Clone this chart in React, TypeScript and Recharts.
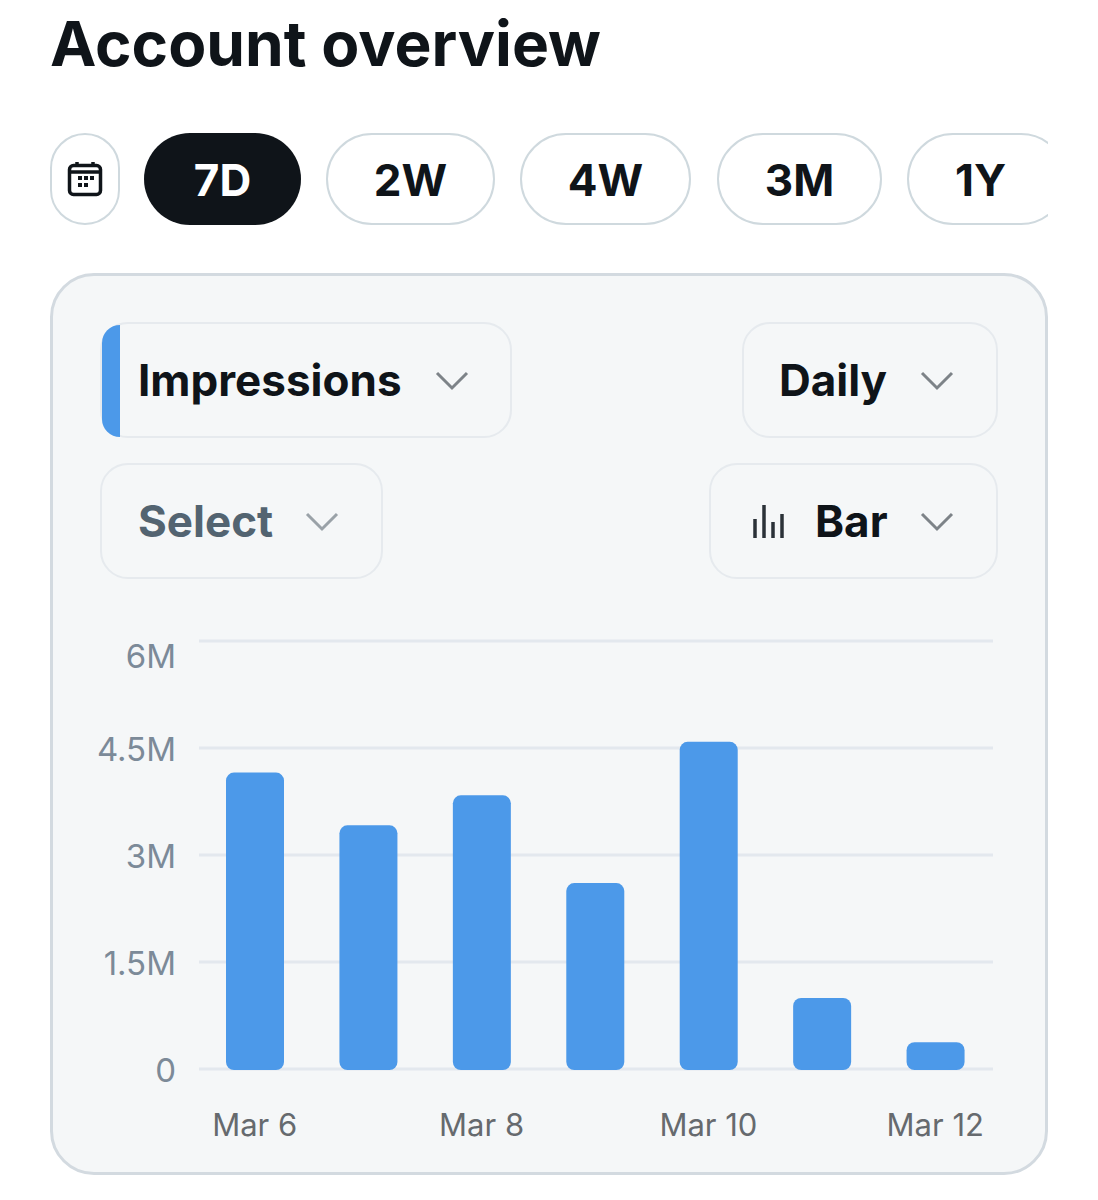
import { BarChart, Bar, XAxis, YAxis, CartesianGrid, Rectangle } from 'recharts'

const days = ['Mar 6', 'Mar 7', 'Mar 8', 'Mar 9', 'Mar 10', 'Mar 11', 'Mar 12']
const impressions = [4170000, 3430000, 3850000, 2620000, 4600000, 1010000, 390000]
const yTicks = [0, 1500000, 3000000, 4500000, 6000000]
const yLabels = ['0', '1.5M', '3M', '4.5M', '6M']
const ranges = ['7D', '2W', '4W', '3M', '1Y']

const chartData = days.map((day, i) => ({ day, impressions: impressions[i] }))

const font = 'Inter, sans-serif'
const BLUE = '#4c99e9'
const INK = '#0f1419'

const rangeBoxes = [
  { left: 144, width: 157 },
  { left: 326, width: 169 },
  { left: 520, width: 171 },
  { left: 717, width: 165 },
  { left: 907, width: 160 },
]

function Chevron({ left, top, color = '#7d8388' }: { left: number; top: number; color?: string }) {
  return (
    <svg style={{ position: 'absolute', left, top }} width="36" height="22" viewBox="0 0 36 22">
      <path d="M3 3 L18 18 L33 3" fill="none" stroke={color} strokeWidth="3" />
    </svg>
  )
}

function Dropdown({ left, top, width, label, textLeft, color = INK, chevronLeft }: any) {
  return (
    <div
      style={{
        position: 'absolute',
        left,
        top,
        width,
        height: 116,
        boxSizing: 'border-box',
        border: '2px solid #e6eaee',
        borderRadius: 28,
        overflow: 'hidden',
      }}
    >
      <div
        style={{
          position: 'absolute',
          left: textLeft,
          top: 28,
          fontSize: 44,
          lineHeight: '56px',
          fontWeight: 700,
          color,
          whiteSpace: 'nowrap',
        }}
      >
        {label}
      </div>
      <Chevron left={chevronLeft} top={46} color={color === INK ? '#7d8388' : '#9aa2a8'} />
    </div>
  )
}

function YTick({ x, y, payload }: any) {
  // top label sits below its grid line in the original
  const shift = payload.value === 6000000 ? 27 : 13
  return (
    <text x={x + 7} y={y + shift} textAnchor="end" fontSize={33} fontFamily={font} fill="#7c8a98">
      {yLabels[yTicks.indexOf(payload.value)]}
    </text>
  )
}

export default function App() {
  return (
    <div style={{ position: 'absolute', left: 0, top: 0, width: 1098, height: 1200, background: '#fff', fontFamily: font, overflow: 'hidden' }}>
      <div style={{ position: 'absolute', left: 50, top: 5, fontSize: 62.2, lineHeight: '78px', fontWeight: 700, color: INK, whiteSpace: 'nowrap' }}>
        Account overview
      </div>

      {/* range pills, the last one is cut off by the scroller */}
      <div style={{ position: 'absolute', left: 0, top: 130, width: 1048, height: 98, overflow: 'hidden' }}>
        <div style={{ position: 'absolute', left: 50, top: 3, width: 70, height: 92, boxSizing: 'border-box', border: '2px solid #cfd9de', borderRadius: 35 }}>
          <svg style={{ position: 'absolute', left: 15, top: 26 }} width="36" height="36" viewBox="0 0 36 36">
            <rect x="2.5" y="4.5" width="31" height="29" rx="4" fill="none" stroke={INK} strokeWidth="3.5" />
            <path d="M2.5 11 H33.5 M10 1 V6 M26 1 V6" stroke={INK} strokeWidth="3.5" fill="none" />
            <path d="M11 15h4v4h-4z M17 15h4v4h-4z M23 15h4v4h-4z M11 22h4v4h-4z M17 22h4v4h-4z" fill={INK} />
          </svg>
        </div>
        {ranges.map((r, i) => (
          <div
            key={r}
            style={{
              position: 'absolute',
              left: rangeBoxes[i].left,
              top: 3,
              width: rangeBoxes[i].width,
              height: 92,
              boxSizing: 'border-box',
              border: i === 0 ? 'none' : '2px solid #cfd9de',
              background: i === 0 ? INK : '#fff',
              borderRadius: 46,
              color: i === 0 ? '#fff' : INK,
              fontSize: 44,
              fontWeight: 700,
              lineHeight: i === 0 ? '95px' : '91px',
              textAlign: i === 4 ? 'left' : 'center',
              paddingLeft: i === 4 ? 46 : 0,
            }}
          >
            {r}
          </div>
        ))}
      </div>

      <div style={{ position: 'absolute', left: 50, top: 273, width: 998, height: 902, boxSizing: 'border-box', border: '3px solid #d3dae0', borderRadius: 44, background: '#f5f7f8' }} />

      <Dropdown left={100} top={322} width={412} label="Impressions" textLeft={36} chevronLeft={332} />
      <div style={{ position: 'absolute', left: 102, top: 325, width: 18, height: 112, background: BLUE, borderRadius: '18px 0 0 18px' }} />
      <Dropdown left={742} top={322} width={256} label="Daily" textLeft={35} chevronLeft={175} />
      <Dropdown left={100} top={463} width={283} label="Select" textLeft={36} color="#536471" chevronLeft={202} />
      <Dropdown left={709} top={463} width={289} label="Bar" textLeft={104} chevronLeft={208} />
      <svg style={{ position: 'absolute', left: 752, top: 503 }} width="34" height="36" viewBox="0 0 34 36">
        <path d="M3 16 V35 M12 2 V35 M21 19 V35 M30 11 V35" stroke="#2b3238" strokeWidth="3.5" fill="none" />
      </svg>

      <div style={{ position: 'absolute', left: 0, top: 600 }}>
        <BarChart width={1098} height={570} data={chartData} margin={{ top: 41, right: 105, bottom: 0, left: 0 }}>
          <CartesianGrid vertical={false} stroke="#e3e8ee" strokeWidth={3} />
          <XAxis
            dataKey="day"
            interval={1}
            height={101}
            padding={{ left: -1, right: 1 }}
            axisLine={false}
            tickLine={false}
            tickMargin={39}
            tick={{ fontSize: 31, fontFamily: font, fill: '#666a6e' }}
          />
          <YAxis
            width={199}
            domain={[0, 6000000]}
            ticks={yTicks}
            axisLine={false}
            tickLine={false}
            tickMargin={24}
            tick={<YTick />}
          />
          <Bar
            dataKey="impressions"
            fill={BLUE}
            barSize={58}
            radius={8}
            isAnimationActive={false}
            shape={(p: any) => <Rectangle {...p} y={p.y + 1} />}
          />
        </BarChart>
      </div>
    </div>
  )
}
